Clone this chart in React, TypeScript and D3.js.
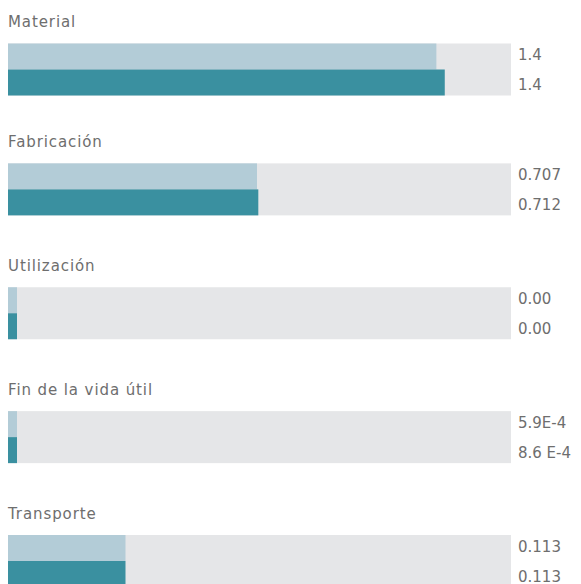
import React, { useEffect, useRef } from "react";
import * as d3 from "d3";

// impact categories, two scenarios each
const categories = ["Material", "Fabricación", "Utilización", "Fin de la vida útil", "Transporte"];
const baseValues = [1.39, 0.707, 0, 0.00059, 0.113];
const altValues = [1.42, 0.712, 0, 0.00086, 0.113];
const baseLabels = ["1.4", "0.707", "0.00", "5.9E-4", "0.113"];
const altLabels = ["1.4", "0.712", "0.00", "8.6 E-4", "0.113"];

const width = 581;
const height = 584;

export default function App() {
  const ref = useRef<SVGSVGElement>(null);

  useEffect(() => {
    const svg = d3.select(ref.current);
    svg.selectAll("*").remove();

    const left = 8;
    const trackW = 503;
    const barH = 26;
    const minW = 9;

    // bar lengths in the original are not linear in the value
    const x = d3.scaleLinear()
      .domain([0, 0.113, 0.707, 1.4, 1.65])
      .range([0, 117.5, 249, 431, trackW]);

    const y = d3.scalePoint<string>().domain(categories).range([39.5, 535]);
    const top = (c: string, i: number) => (y(c) as number) + (i === 0 ? 4 : 0);

    const g = svg.selectAll("g.group")
      .data(categories)
      .join("g")
      .attr("class", "group")
      .attr("transform", (c, i) => `translate(0, ${top(c, i)})`);

    g.append("text")
      .attr("x", left)
      .attr("y", -16.5)
      .attr("fill", "#6e6e6e")
      .attr("font-size", 15)
      .attr("letter-spacing", 0.9)
      .text(d => d);

    g.append("rect")
      .attr("x", left)
      .attr("y", 0)
      .attr("width", trackW)
      .attr("height", barH * 2)
      .attr("fill", "#e5e6e8");

    g.append("rect")
      .attr("x", left)
      .attr("y", 0)
      .attr("width", (c, i) => Math.max(minW, x(baseValues[i])))
      .attr("height", barH)
      .attr("fill", "#b3ccd7");

    g.append("rect")
      .attr("x", left)
      .attr("y", barH)
      .attr("width", (c, i) => Math.max(minW, x(altValues[i])))
      .attr("height", barH)
      .attr("fill", "#3a90a0");

    g.append("text")
      .attr("x", 518)
      .attr("y", 11.5)
      .attr("dominant-baseline", "central")
      .attr("fill", "#6e6e6e")
      .attr("font-size", 15)
      .text((c, i) => baseLabels[i]);

    g.append("text")
      .attr("x", 518)
      .attr("y", 41.5)
      .attr("dominant-baseline", "central")
      .attr("fill", "#6e6e6e")
      .attr("font-size", 15)
      .text((c, i) => altLabels[i]);
  }, []);

  return (
    <svg
      ref={ref}
      width={width}
      height={height}
      style={{ position: "absolute", left: 0, top: 0, fontFamily: "'DejaVu Sans', sans-serif" }}
    />
  );
}
